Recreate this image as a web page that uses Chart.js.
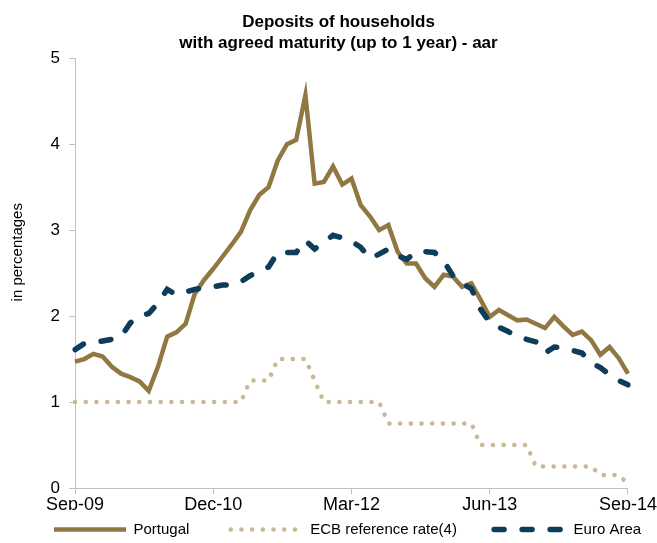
<!DOCTYPE html>
<html>
<head>
<meta charset="utf-8">
<script src="https://cdn.jsdelivr.net/npm/chart.js@4/dist/chart.umd.min.js"></script>
<style>
  html, body { margin: 0; padding: 0; background: #fff; }
  #wrap { width: 657px; height: 543px; }
</style>
</head>
<body>
<div id="wrap"><canvas id="chart" width="657" height="543"></canvas></div>
<script>
// Sep-09 .. Sep-14, monthly
const monthNames = ['Jan','Feb','Mar','Apr','May','Jun','Jul','Aug','Sep','Oct','Nov','Dec'];
const labels = [];
for (let k = 0; k < 61; k++) {
  const m = (8 + k) % 12;
  const y = 2009 + Math.floor((8 + k) / 12);
  labels.push(monthNames[m] + '-' + String(y).slice(2));
}

const portugal = [1.47,1.50,1.56,1.53,1.41,1.33,1.29,1.24,1.13,1.41,
  1.76,1.81,1.91,2.26,2.42,2.55,2.69,2.83,2.98,3.23,
  3.41,3.50,3.81,4.00,4.05,4.57,3.54,3.56,3.74,3.53,
  3.60,3.29,3.16,3.00,3.06,2.75,2.61,2.61,2.44,2.34,
  2.48,2.46,2.34,2.38,2.19,1.99,2.07,2.01,1.95,1.96,
  1.91,1.86,1.99,1.88,1.78,1.82,1.72,1.55,1.64,1.51,
  1.33];

const ecbRate = [1,1,1,1,1,1,1,1,1,1,
  1,1,1,1,1,1,1,1,1,1.25,
  1.25,1.25,1.5,1.5,1.5,1.5,1.25,1,1,1,
  1,1,1,1,0.75,0.75,0.75,0.75,0.75,0.75,
  0.75,0.75,0.75,0.75,0.5,0.5,0.5,0.5,0.5,0.5,
  0.25,0.25,0.25,0.25,0.25,0.25,0.25,0.15,0.15,0.15,
  0.05];

const euroArea = [1.61,1.68,1.69,1.71,1.73,1.76,1.92,2.00,2.03,2.15,
  2.31,2.25,2.28,2.31,2.33,2.34,2.36,2.36,2.40,2.47,
  2.52,2.57,2.74,2.74,2.74,2.88,2.78,2.86,2.94,2.91,
  2.87,2.80,2.67,2.72,2.78,2.70,2.66,2.75,2.75,2.74,
  2.64,2.47,2.38,2.32,2.08,1.93,1.87,1.82,1.76,1.73,
  1.70,1.57,1.64,1.63,1.60,1.57,1.46,1.40,1.32,1.25,
  1.20];

const yTicks = [0, 1, 2, 3, 4, 5];

const sans = '"Liberation Sans", Arial, sans-serif';
const axisGrey = '#BFBFBF';

// move title / legend a little after layout (reference is not centred on the canvas)
const nudge = {
  id: 'nudge',
  afterLayout(chart) {
    const lg = chart.legend;
    lg.left += 46; lg.right += 46; lg.top += 4; lg.bottom += 4;
    const t = chart.titleBlock;
    t.left += 10; t.right += 10;
  }
};

// legend samples: use the dataset line style (dash, cap, width)
function legendLabels(chart) {
  const items = Chart.defaults.plugins.legend.labels.generateLabels(chart);
  items.forEach(it => {
    const ds = chart.data.datasets[it.datasetIndex];
    it.lineDash = ds.borderDash || [];
    it.lineCap = ds.borderCapStyle || 'butt';
    it.lineWidth = ds.borderWidth;
    it.strokeStyle = ds.borderColor;
  });
  return items.sort((a, b) => a.datasetIndex - b.datasetIndex);
}

new Chart(document.getElementById('chart'), {
  type: 'line',
  data: {
    labels: labels,
    datasets: [
      {
        label: 'Portugal        ',
        data: portugal,
        borderColor: '#917843',
        backgroundColor: '#917843',
        borderWidth: 4.5,
        pointRadius: 0,
        tension: 0,
        order: 3
      },
      {
        label: 'ECB reference rate(4)       ',
        data: ecbRate,
        borderColor: '#C9B797',
        backgroundColor: '#C9B797',
        borderWidth: 4.5,
        borderDash: [0.1, 10.6],
        borderCapStyle: 'round',
        pointRadius: 0,
        tension: 0,
        order: 2
      },
      {
        label: 'Euro Area',
        data: euroArea,
        borderColor: '#0E3D5C',
        backgroundColor: '#0E3D5C',
        borderWidth: 5.5,
        borderDash: [10, 18],
        borderCapStyle: 'round',
        pointRadius: 0,
        tension: 0,
        order: 1
      }
    ]
  },
  options: {
    responsive: false,
    animation: false,
    layout: { padding: { left: 0, right: 0, top: 0, bottom: 0 } },
    plugins: {
      title: {
        display: true,
        text: ['Deposits of households', 'with agreed maturity (up to 1 year) - aar'],
        color: '#000',
        font: { family: sans, size: 17, weight: 'bold', lineHeight: 1.24 },
        padding: { top: 12, bottom: 4 }
      },
      legend: {
        position: 'bottom',
        align: 'start',
        labels: {
          usePointStyle: true,
          pointStyle: 'line',
          pointStyleWidth: 72,
          padding: 8,
          color: '#000',
          font: { family: sans, size: 15 },
          generateLabels: legendLabels
        }
      },
      tooltip: { enabled: false }
    },
    scales: {
      x: {
        offset: false,
        grid: {
          drawOnChartArea: false,
          tickLength: 6,
          color: c => (c.index % 15 === 0 ? axisGrey : 'rgba(0,0,0,0)')
        },
        border: { color: axisGrey, width: 1 },
        ticks: {
          autoSkip: false,
          maxRotation: 0,
          padding: 0,
          color: '#000',
          font: { family: sans, size: 18 },
          callback: function (v, i) { return i % 15 === 0 ? this.getLabelForValue(v) : ''; }
        },
        afterFit: s => { s.height = 22; }
      },
      y: {
        min: 0,
        max: 5,
        afterBuildTicks: s => { s.ticks = yTicks.map(v => ({ value: v })); },
        grid: { drawOnChartArea: false, tickLength: 6, color: axisGrey },
        border: { color: axisGrey, width: 1 },
        ticks: { padding: 9, color: '#000', font: { family: sans, size: 17 } },
        title: {
          display: true,
          text: '          in percentages',
          color: '#000',
          font: { family: sans, size: 15 },
          padding: { top: 9, bottom: 0 }
        },
        afterFit: s => { s.width = 75; }
      }
    }
  },
  plugins: [nudge]
});
</script>
</body>
</html>
